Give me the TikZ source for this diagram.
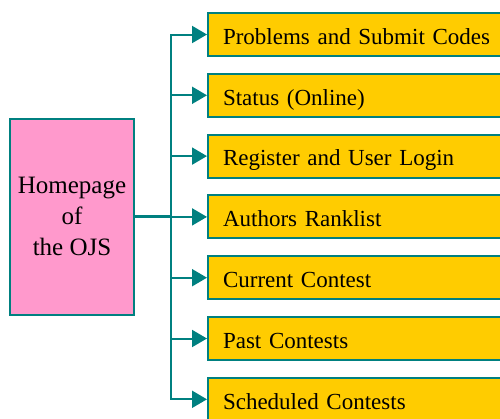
\documentclass[tikz,border=0pt]{standalone}
\usepackage{fontspec}
\setmainfont{Liberation Serif}
\usetikzlibrary{arrows.meta}

\definecolor{linkteal}{RGB}{0,128,128}
\definecolor{homepink}{RGB}{255,153,204}
\definecolor{menugold}{RGB}{255,204,0}

\begin{document}
\begin{tikzpicture}[x=1pt,y=-1pt,
  homebox/.style={draw=linkteal, line width=2pt, fill=homepink,
    minimum width=124pt, minimum height=196pt, inner sep=0pt,
    align=center, font=\fontsize{25}{31}\selectfont},
  menubox/.style={draw=linkteal, line width=2pt, fill=menugold,
    anchor=west, text width=270pt, inner xsep=15pt, inner ysep=0pt,
    minimum height=43pt, align=left, text height=21pt, text depth=1.4pt,
    font=\fontsize{23}{27}\selectfont},
  link/.style={draw=linkteal, line width=2pt,
    -{Triangle[length=15pt,width=17pt]}, linkteal},
  trunk/.style={draw=linkteal, line width=3pt}]

  % page frame
  \clip (0,0) rectangle (500,418);

  % homepage block
  \node[homebox] (home) at (72,216.9) {Homepage\\of\\the OJS};

  % menu entries
  \node[menubox] (m1) at (207,34.5)  {Problems and Submit Codes};
  \node[menubox] (m2) at (207,95.3)  {Status (Online)};
  \node[menubox] (m3) at (207,156.1) {Register and User Login};
  \node[menubox] (m4) at (207,216.9) {Authors Ranklist};
  \node[menubox] (m5) at (207,277.7) {Current Contest};
  \node[menubox] (m6) at (207,338.5) {Past Contests};
  \node[menubox] (m7) at (207,399.3) {Scheduled Contests};

  % distribution bus
  \coordinate (bus) at (171,216.9);
  \draw[trunk] (home.east) -- (bus);
  \foreach \m in {m1,m2,m3,m4,m5,m6,m7}
    \draw[link] (bus) |- (\m.west);
\end{tikzpicture}
\end{document}
